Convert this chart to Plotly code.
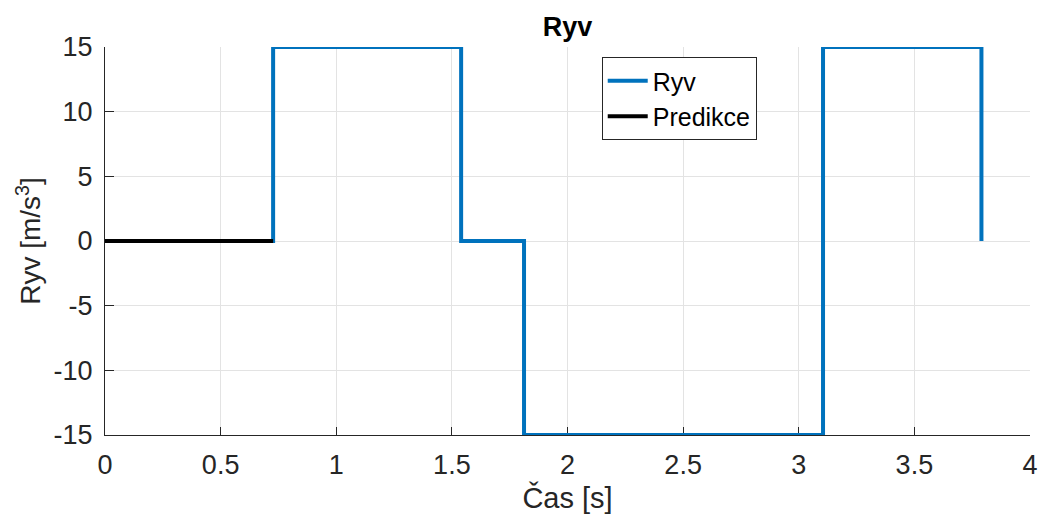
import plotly.graph_objects as go

# Jerk profile (step changes) and the prediction segment
t_ryv = [0, 0.727, 1.54, 1.812, 3.105, 3.79]
ryv = [0, 15, 0, -15, 15, 0]

t_pred = [0, 0.727]
pred = [0, 0]

x_ticks = [0, 0.5, 1, 1.5, 2, 2.5, 3, 3.5, 4]
y_ticks = [-15, -10, -5, 0, 5, 10, 15]

FONT = "Liberation Sans, Arial, sans-serif"
AX = "#262626"
GRID = "#e3e3e3"

fig = go.Figure()
fig.add_trace(go.Scatter(
    x=t_ryv, y=ryv, mode="lines", name="Ryv", line_shape="hv",
    line=dict(color="#0072BD", width=4), cliponaxis=False,
))
fig.add_trace(go.Scatter(
    x=t_pred, y=pred, mode="lines", name="Predikce",
    line=dict(color="#000000", width=4), cliponaxis=False,
))

fig.update_layout(
    width=1042, height=521,
    margin=dict(l=105, r=12, t=47, b=86, autoexpand=False),
    paper_bgcolor="white", plot_bgcolor="white",
    font=dict(family=FONT, color=AX, size=27),
    title=dict(text="<b>Ryv</b>", x=(105 + 1030) / 2 / 1042, xanchor="center",
               y=1 - 27 / 521, yanchor="middle", font=dict(size=27, color="#000000")),
    showlegend=True,
    legend=dict(
        x=0.537, y=0.974, xanchor="left", yanchor="top",
        bgcolor="white", bordercolor=AX, borderwidth=1,
        font=dict(size=25, color="#000000"), itemwidth=40,
    ),
    xaxis=dict(
        range=[0, 4], tickvals=x_ticks, ticktext=[f"{v:g}" for v in x_ticks],
        showgrid=True, gridcolor=GRID, gridwidth=1,
        showline=True, linecolor=AX, linewidth=1, mirror=False,
        ticks="inside", ticklen=8, tickcolor=AX, ticklabelstandoff=6,
        zeroline=False, tickfont=dict(size=27, color=AX), automargin=False,
        title=dict(text="Čas [s]", font=dict(size=29, color=AX), standoff=8),
        layer="below traces",
    ),
    yaxis=dict(
        range=[-15, 15], tickvals=y_ticks, ticktext=[f"{v:g}" for v in y_ticks],
        showgrid=True, gridcolor=GRID, gridwidth=1,
        showline=True, linecolor=AX, linewidth=1, mirror=False,
        ticks="inside", ticklen=9, tickcolor=AX, ticklabelstandoff=6,
        zeroline=False, tickfont=dict(size=27, color=AX), automargin=False,
        title=dict(text="Ryv [m/s<sup>3</sup>]", font=dict(size=28, color=AX), standoff=4),
        layer="below traces",
    ),
)

fig.write_html("out.html")
